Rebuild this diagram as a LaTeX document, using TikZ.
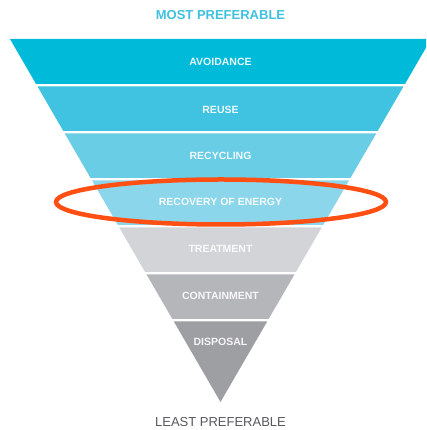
\documentclass[tikz,border=0pt]{standalone}
\usepackage{fontspec}
\setmainfont{Liberation Sans}
\definecolor{cA}{HTML}{00BADA}
\definecolor{cB}{HTML}{40C3E0}
\definecolor{cC}{HTML}{68CDE5}
\definecolor{cD}{HTML}{8CD6EB}
\definecolor{cE}{HTML}{D3D4D8}
\definecolor{cF}{HTML}{B5B6B9}
\definecolor{cG}{HTML}{9E9FA3}
\definecolor{topcol}{HTML}{3EC2E0}
\definecolor{botcol}{HTML}{58595B}
\definecolor{ringcol}{HTML}{FF4F12}
\tikzset{
  bandlabel/.style={text=white, opacity=0.9, font=\fontsize{10.5}{12}\selectfont\bfseries, inner sep=0pt},
  headlabel/.style={font=\fontsize{13}{15}\selectfont, inner sep=0pt}
}
\begin{document}
\begin{tikzpicture}[x=1pt,y=1pt]
\useasboundingbox (0,0) rectangle (426,430);
\fill[white] (0,0) rectangle (426,430);
\begin{scope}
\clip (0,0) rectangle (426,430);
\foreach \t/\b/\c/\lab/\n/\ly in {
  39/84/cA/AVOIDANCE/avoid/62,
  86.5/131/cB/REUSE/reuse/110,
  133.5/178/cC/RECYCLING/recyc/156,
  180.5/225/cD/RECOVERY OF ENERGY/recov/202.3,
  227.5/272/cE/TREATMENT/treat/249.3,
  274.5/319/cF/CONTAINMENT/contain/295.7,
  321.5/402/cG/DISPOSAL/disp/342.3}{
  \pgfmathsetmacro\wt{0.58*(402-\t)}
  \pgfmathsetmacro\wb{0.58*(402-\b)}
  \fill[\c] (220.5-\wt,430-\t) -- (220.5+\wt,430-\t) -- (220.5+\wb,430-\b) -- (220.5-\wb,430-\b) -- cycle;
  \node[bandlabel] (\n) at (220.5,430-\ly) {\lab};
}
\end{scope}
\draw[ringcol, line width=4.5pt] (221,228) ellipse [x radius=165, y radius=22.5];
\node[headlabel, text=topcol, font=\fontsize{13}{15}\selectfont\bfseries] (most) at (220.5,415) {MOST PREFERABLE};
\node[headlabel, text=botcol] (least) at (220.5,8) {LEAST PREFERABLE};
\end{tikzpicture}
\end{document}
